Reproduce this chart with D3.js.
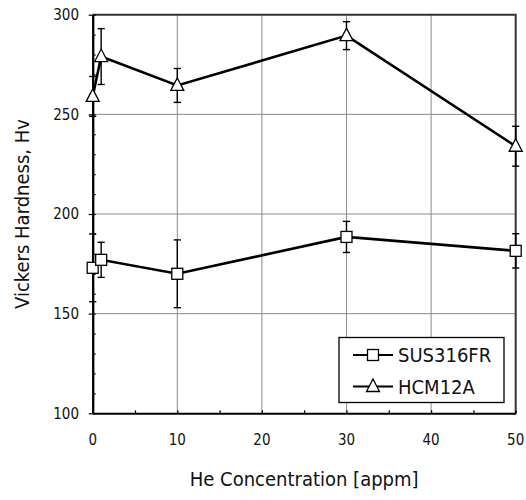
<!DOCTYPE html>
<html>
<head>
<meta charset="utf-8">
<script src="https://cdn.jsdelivr.net/npm/d3@7.9.0/dist/d3.min.js"></script>
<style>
  html, body { margin: 0; padding: 0; background: #fff; }
  svg text { font-family: "DejaVu Sans Condensed", "DejaVu Sans", sans-serif; fill: #111; }
</style>
</head>
<body>
<div id="chart"></div>
<script>
// He concentration (appm)
const conc = [0, 1, 10, 30, 50];

// Vickers hardness, mean and error
const sus316fr = [173, 177, 170, 188.5, 181.5];
const sus316frErr = [17, 8.8, 17, 7.8, 8.6];
const hcm12a = [259, 279, 264.5, 289.5, 234];
const hcm12aErr = [10, 14, 8.5, 7, 10];

const xTicks = [0, 10, 20, 30, 40, 50];
const yTicks = [100, 150, 200, 250, 300];

const series = [
  { name: 'SUS316FR', values: sus316fr, err: sus316frErr, marker: 'square' },
  { name: 'HCM12A', values: hcm12a, err: hcm12aErr, marker: 'triangle' }
];

const width = 526;
const height = 500;
const plotL = 92.7, plotR = 515.7, plotT = 14.7, plotB = 413.3;

const x = d3.scaleLinear().domain([0, 50]).range([plotL, plotR]);
const y = d3.scaleLinear().domain([100, 300]).range([plotB, plotT]);

const svg = d3.select('#chart').append('svg')
  .attr('width', width)
  .attr('height', height);

// grid
const grid = svg.append('g').attr('class', 'grid')
  .attr('stroke', '#8c8c8c').attr('stroke-width', 1);
grid.selectAll('line.v')
  .data(xTicks.filter(d => d > 0 && d < 50))
  .enter().append('line')
  .attr('x1', d => x(d)).attr('x2', d => x(d))
  .attr('y1', plotT).attr('y2', plotB);
grid.selectAll('line.h')
  .data(yTicks.filter(d => d > 100 && d < 300))
  .enter().append('line')
  .attr('x1', plotL).attr('x2', plotR)
  .attr('y1', d => y(d)).attr('y2', d => y(d));

// frame top/right
svg.append('path')
  .attr('d', `M${plotL},${plotT}H${plotR}V${plotB}`)
  .attr('fill', 'none').attr('stroke', '#333').attr('stroke-width', 2);

// axes
const xAxis = d3.axisBottom(x).tickValues(d3.range(0, 51, 5))
  .tickSizeInner(-3).tickSizeOuter(0).tickFormat('');
const yAxisMinor = d3.axisLeft(y).tickValues(d3.range(100, 301, 10))
  .tickSizeInner(-3).tickSizeOuter(0).tickFormat('');
const yAxisMajor = d3.axisLeft(y).tickValues(yTicks)
  .tickSizeInner(4).tickSizeOuter(0).tickFormat('');

[svg.append('g').attr('transform', `translate(0,${plotB})`).call(xAxis),
 svg.append('g').attr('transform', `translate(${plotL},0)`).call(yAxisMinor),
 svg.append('g').attr('transform', `translate(${plotL},0)`).call(yAxisMajor)
].forEach(g => {
  g.select('.domain').attr('stroke', '#000').attr('stroke-width', 2);
  g.selectAll('.tick line').attr('stroke', '#000').attr('stroke-width', 1.2);
});

// tick labels
svg.append('g').selectAll('text')
  .data(xTicks).enter().append('text')
  .attr('x', d => x(d)).attr('y', 445)
  .attr('text-anchor', 'middle')
  .attr('font-size', 15)
  .text(d => d);
svg.append('g').selectAll('text')
  .data(yTicks).enter().append('text')
  .attr('x', 79).attr('y', d => y(d))
  .attr('dy', '0.35em')
  .attr('text-anchor', 'end')
  .attr('font-size', 15)
  .text(d => d);

// axis titles
svg.append('text')
  .attr('x', (plotL + plotR) / 2).attr('y', 486)
  .attr('text-anchor', 'middle').attr('font-size', 20)
  .text('He Concentration [appm]');
svg.append('text')
  .attr('transform', `translate(29,${(plotT + plotB) / 2}) rotate(-90)`)
  .attr('text-anchor', 'middle').attr('font-size', 20)
  .text('Vickers Hardness, Hv');

const line = d3.line().x(d => x(d[0])).y(d => y(d[1]));

function drawMarker(g, type, cx, cy) {
  if (type === 'square') {
    g.append('rect')
      .attr('x', cx - 5.5).attr('y', cy - 5.5)
      .attr('width', 11).attr('height', 11)
      .attr('fill', '#fff').attr('stroke', '#000').attr('stroke-width', 1.3);
  } else {
    g.append('path')
      .attr('d', `M${cx},${cy - 7.5}L${cx + 6.5},${cy + 5}L${cx - 6.5},${cy + 5}Z`)
      .attr('fill', '#fff').attr('stroke', '#000').attr('stroke-width', 1.3);
  }
}

series.forEach(s => {
  const pts = conc.map((c, i) => [c, s.values[i], s.err[i]]);
  const g = svg.append('g');

  g.append('path')
    .datum(pts)
    .attr('d', line)
    .attr('fill', 'none').attr('stroke', '#000').attr('stroke-width', 2.6);

  const eb = g.append('g').attr('stroke', '#000').attr('stroke-width', 1.4);
  pts.forEach(p => {
    const cx = x(p[0]);
    eb.append('line')
      .attr('x1', cx).attr('x2', cx)
      .attr('y1', y(p[1] + p[2])).attr('y2', y(p[1] - p[2]));
    [p[1] + p[2], p[1] - p[2]].forEach(v => {
      eb.append('line')
        .attr('x1', cx - 3.6).attr('x2', cx + 3.6)
        .attr('y1', y(v)).attr('y2', y(v));
    });
  });

  pts.forEach(p => drawMarker(g, s.marker, x(p[0]), y(p[1])));
});

// legend
const lg = svg.append('g');
lg.append('rect')
  .attr('x', 339).attr('y', 337.5)
  .attr('width', 165).attr('height', 65)
  .attr('fill', '#fff').attr('stroke', '#000').attr('stroke-width', 1.3);
series.forEach((s, i) => {
  const cy = 355 + i * 31.5;
  lg.append('line')
    .attr('x1', 353).attr('x2', 393)
    .attr('y1', cy).attr('y2', cy)
    .attr('stroke', '#000').attr('stroke-width', 2);
  drawMarker(lg, s.marker, 373, cy);
  lg.append('text')
    .attr('x', 398).attr('y', cy + 7)
    .attr('font-size', 20)
    .text(s.name);
});
</script>
</body>
</html>
